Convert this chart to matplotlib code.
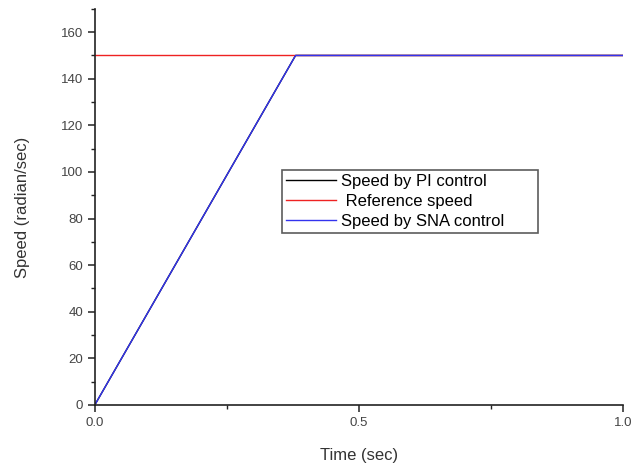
import matplotlib
matplotlib.use("Agg")
import matplotlib.pyplot as plt
from matplotlib.ticker import MultipleLocator

plt.rcParams['font.family'] = ['Liberation Sans', 'DejaVu Sans']

# data
time_pi = [0.0, 0.38, 1.0]
speed_pi = [0.0, 150.0, 150.0]
time_ref = [0.0, 1.0]
speed_ref = [150.0, 150.0]
time_sna = [0.0, 0.38, 1.0]
speed_sna = [0.0, 150.0, 150.0]

fig = plt.figure(figsize=(6.32, 4.66), dpi=100)
ax = fig.add_axes([0.150, 0.131, 0.836, 0.850])

ax.plot(time_pi, speed_pi, color='black', lw=1, label='Speed by PI control')
ax.plot(time_ref, speed_ref, color='#ee2222', lw=1, label=' Reference speed')
ax.plot(time_sna, speed_sna, color='#3333ee', lw=1, label='Speed by SNA control')

ax.set_xlim(0, 1.0)
ax.set_ylim(0, 170)
ax.xaxis.set_major_locator(MultipleLocator(0.5))
ax.xaxis.set_minor_locator(MultipleLocator(0.25))
ax.yaxis.set_minor_locator(MultipleLocator(10))
ax.set_yticks([0, 20, 40, 60, 80, 100, 120, 140, 160])

for s in ['top', 'right']:
    ax.spines[s].set_visible(False)
for s in ['left', 'bottom']:
    ax.spines[s].set_linewidth(1.2)
    ax.spines[s].set_color('#222222')

ax.tick_params(which='major', direction='out', length=5, width=1.1, labelsize=9.5,
               labelcolor='#444444', color='#222222')
ax.tick_params(which='minor', direction='out', length=3, width=1.0, color='#222222')
ax.xaxis.set_major_formatter(plt.FuncFormatter(lambda v, p: f'{v:.1f}'))

ax.set_xlabel('Time (sec)', fontsize=12, color='#333333', labelpad=14)
ax.set_ylabel('Speed (radian/sec)', fontsize=12, color='#333333', labelpad=22)

leg = ax.legend(loc='lower left', bbox_to_anchor=(0.354, 0.434, 0.485, 0.17),
                mode='expand', borderaxespad=0, fontsize=12, frameon=True, fancybox=False,
                handlelength=3, borderpad=0.25, labelspacing=0.3, handletextpad=0.3)
leg.get_frame().set_edgecolor('#333333')
leg.get_frame().set_linewidth(1.2)

fig.savefig('out.png', dpi=100)
